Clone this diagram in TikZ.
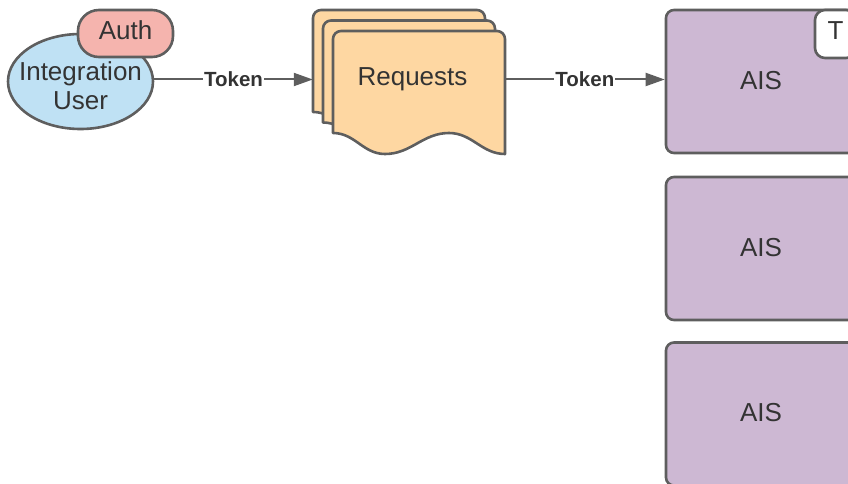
\documentclass[tikz,border=0pt]{standalone}
\usepackage{fontspec}
\setmainfont{Liberation Sans}
\usetikzlibrary{arrows.meta,shapes.geometric}

\definecolor{edge}{HTML}{5E5E5E}
\definecolor{ink}{HTML}{333333}
\definecolor{userblue}{HTML}{BFE1F4}
\definecolor{authpink}{HTML}{F5B4AE}
\definecolor{reqorange}{HTML}{FED7A2}
\definecolor{aispurple}{HTML}{CDB8D3}

\tikzset{
  outline/.style={draw=edge, line width=2.6pt},
  lbl/.style={font=\fontsize{26}{30}\selectfont, text=ink, inner sep=0pt, anchor=base},
  tok/.style={font=\bfseries\fontsize{20.5}{23}\selectfont, text=ink, fill=white,
              inner xsep=1.2pt, inner ysep=1pt},
  flow/.style={draw=edge, line width=2pt, -{Triangle[length=19pt,width=13pt]}},
  aisbox/.style={outline, fill=aispurple, rectangle, rounded corners=8pt,
                 minimum width=190pt, minimum height=143pt, inner sep=0pt},
  reqpage/.style={outline, fill=reqorange, line join=round}
}

\newcommand\docpage{%
  (333,133) [rounded corners=8pt] -- (333,31) -- (505,31) [sharp corners] -- (505,154)
  to[out=180,in=0] (449,133) to[out=180,in=0] (385,154) to[out=180,in=0] (333,133) -- cycle}

\begin{document}
\begin{tikzpicture}[x=1pt,y=-1pt]
  \useasboundingbox (0,0) rectangle (848,484);
  \clip (0,0) rectangle (848,484);

  % integration user with its auth badge
  \node[ellipse, outline, fill=userblue, minimum width=145pt, minimum height=95pt,
        inner sep=0pt] (user) at (80.5,81.5) {};
  \node[lbl] (userl1) at (80.5,81) {Integration};
  \node[lbl] (userl2) at (80.5,110) {User};
  \node[outline, fill=authpink, rectangle, rounded corners=21pt,
        minimum width=95pt, minimum height=47pt, inner sep=0pt] (auth) at (125.5,33.5) {};
  \node[lbl] (authl) at (125.5,39.5) {Auth};

  % stacked request documents
  \node[minimum width=192pt, minimum height=100pt, inner sep=0pt] (req) at (409,79.5) {};
  \draw[reqpage, shift={(-20,-21)}] \docpage;
  \draw[reqpage, shift={(-10,-10.5)}] \docpage;
  \draw[reqpage] \docpage;
  \node[lbl] (reql) at (412.5,86) {Requests};

  % AIS targets
  \node[aisbox] (ais1) at (761,81.5) {};
  \node[aisbox] (ais2) at (761,248.5) {};
  \node[aisbox] (ais3) at (761,414) {};
  \node[lbl] (ais1l) at (761,89.5) {AIS};
  \node[lbl] (ais2l) at (761,256.5) {AIS};
  \node[lbl] (ais3l) at (761,421.5) {AIS};
  \node[outline, fill=white, rectangle, rounded corners=10pt,
        minimum width=41pt, minimum height=48pt, inner sep=0pt] (tab) at (835.5,34) {};
  \node[lbl] (tabl) at (835.5,39.5) {T};

  % token flow
  \draw[flow] (user.east |- req.west) -- node[tok] {Token} (req.west);
  \draw[flow] (505,79.5 |- req.east) -- node[tok] {Token} (req.east -| ais1.west);
\end{tikzpicture}
\end{document}
